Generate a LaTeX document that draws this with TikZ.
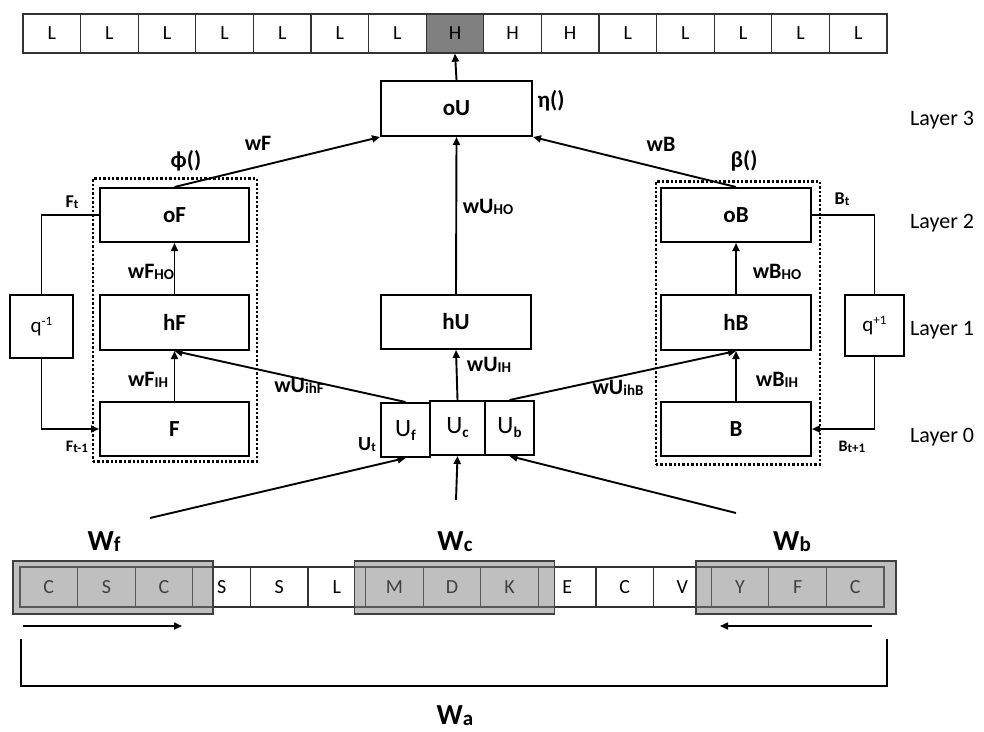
\documentclass[tikz,border=0pt]{standalone}
\usepackage{fontspec}
\setmainfont{Carlito}
\usetikzlibrary{arrows.meta,calc}
\newcommand\sbx[1]{\raisebox{-1.5pt}{\fontsize{15}{15}\selectfont #1}}
\newcommand\sbs[1]{\raisebox{-1pt}{\fontsize{13}{13}\selectfont #1}}
\newcommand\sbu[1]{\raisebox{-4pt}{\fontsize{15}{15}\selectfont\bfseries #1}}
\newcommand\spx[1]{\raisebox{7pt}{\fontsize{13}{13}\selectfont #1}}
\begin{document}
\begin{tikzpicture}[x=1pt,y=-1pt,
  cell/.style={draw=black!80,line width=1.3pt,minimum width=57.6pt,minimum height=39pt,inner sep=0pt,font=\fontsize{20}{20}\selectfont},
  hcell/.style={cell,fill=black!50},
  box/.style={draw,line width=2pt,minimum width=150pt,minimum height=54pt,inner sep=0pt,font=\bfseries\fontsize{23}{23}\selectfont},
  ubox/.style={draw,line width=2pt,minimum height=54pt,inner sep=0pt,font=\fontsize{25}{25}\selectfont},
  qbox/.style={draw,line width=1.2pt,inner sep=0pt,font=\fontsize{21}{21}\selectfont},
  dotbox/.style={draw,line width=2.8pt,dash pattern=on 2.4pt off 2pt,minimum width=164pt,minimum height=283pt,inner sep=0pt},
  arr/.style={line width=1.9pt,-{Triangle[length=8pt,width=7pt]}},
  ln/.style={line width=1.9pt},
  lab/.style={font=\bfseries\fontsize{22}{22}\selectfont,inner sep=0pt},
  slab/.style={font=\bfseries\fontsize{18}{18}\selectfont,inner sep=0pt},
  glab/.style={font=\bfseries\fontsize{23}{23}\selectfont,inner sep=0pt},
  layer/.style={font=\fontsize{22}{22}\selectfont,anchor=west,inner sep=0pt},
  win/.style={draw=black!75,line width=1.1pt,fill=black!50,fill opacity=0.5,minimum width=200pt,minimum height=53pt,inner sep=0pt},
  wlab/.style={font=\bfseries\fontsize{29}{29}\selectfont,inner sep=0pt}
]
\useasboundingbox (0,0) rectangle (984,731);
\fill[white] (0,0) rectangle (984,731);

% top output row
\foreach \t [count=\i] in {L,L,L,L,L,L,L,H,H,H,L,L,L,L,L} {
  \ifnum\i=8
    \node[hcell] (t\i) at ({23+57.6*(\i-0.5)},33.5) {\t};
  \else
    \node[cell] (t\i) at ({23+57.6*(\i-0.5)},33.5) {\t};
  \fi
}

% bottom sequence row
\foreach \t [count=\i] in {C,S,C,S,S,L,M,D,K,E,C,V,Y,F,C} {
  \node[cell,minimum height=40pt] (b\i) at ({20+57.6*(\i-0.5)},587) {\t};
}
\node[win] (wf) at (113,587.5) {};
\node[win] (wc) at (454.5,587.5) {};
\node[win] (wb) at (796,587.5) {};
\node[wlab] (wflab) at (104,542) {W\raisebox{-1pt}{\fontsize{21}{21}\selectfont f}};
\node[wlab] (wclab) at (455,542) {W\raisebox{-1pt}{\fontsize{21}{21}\selectfont c}};
\node[wlab] (wblab) at (792,542) {W\raisebox{-1pt}{\fontsize{21}{21}\selectfont b}};
\node[wlab] (walab) at (455,716) {W\raisebox{-1pt}{\fontsize{21}{21}\selectfont a}};

% direction arrows and bracket
\coordinate (fa1) at (23,626);
\coordinate (fa2) at (182,626);
\coordinate (ba1) at (872,626);
\coordinate (ba2) at (720,626);
\draw[arr,line width=1.6pt] (fa1) -- (fa2);
\draw[arr,line width=1.6pt] (ba1) -- (ba2);
\coordinate (br1) at (21,639);
\coordinate (br2) at (887,686);
\coordinate (br3) at (887,639);
\draw[ln] (br1) |- (br2) -- (br3);

% dotted groups
\node[dotbox] (dotL) at (175,320) {};
\node[dotbox] (dotR) at (738,323) {};

% boxes
\node[box,minimum width=151pt,minimum height=55pt] (oU) at (456.5,108.5) {oU};
\node[box,minimum width=149pt] (oF) at (174.5,215) {oF};
\node[box,minimum width=149pt,minimum height=55pt] (hF) at (174.5,322.5) {hF};
\node[box,minimum width=149pt] (F) at (174.5,429) {F};
\node[box] (oB) at (736,215) {oB};
\node[box,minimum height=55pt] (hB) at (736,322.5) {hB};
\node[box] (B) at (736,429) {B};
\node[box] (hU) at (456,322) {hU};
\node[ubox,minimum width=49pt] (Uf) at (405.5,430) {U\sbu{f}};
\node[ubox,minimum width=55pt] (Uc) at (457.5,428) {U\sbu{c}};
\node[ubox,minimum width=49pt] (Ub) at (509.5,428) {U\sbu{b}};
\node[qbox,minimum width=63pt,minimum height=63pt] (qL) at (41.5,326.5) {q\spx{-1}};
\node[qbox,minimum width=59pt,minimum height=61pt] (qR) at (874.5,325.5) {q\spx{+1}};

% connectors
\draw[arr] (oU.north) -- (t8.south);
\draw[arr] (oF.north) -- (oU.south west);
\draw[arr] (oB.north) -- (oU.south east);
\draw[arr] (hU.north) -- (oU.south);
\draw[arr] (Uc.north) -- (hU.south);
\draw[arr] (F.north) -- (hF.south);
\draw[arr] (hF.north) -- (oF.south);
\draw[arr] (B.north) -- (hB.south);
\draw[arr] (hB.north) -- (oB.south);
\draw[arr] (Uf.north) -- (hF.south);
\draw[arr] (Ub.north) -- (hB.south);
\draw[ln] (oF.west) -| (qL.north);
\draw[arr] (qL.south) |- (F.west);
\draw[ln] (oB.east) -| (qR.north);
\draw[arr] (qR.south) |- (B.east);

\coordinate (sf) at (150,518);
\coordinate (sc) at (456,500);
\coordinate (sb) at (736,513);
\draw[arr] (sf) -- (Uf.south);
\draw[arr] (sc) -- (Uc.south);
\draw[arr] (sb) -- (Ub.south);

% labels
\node[lab] (l1) at (258,143) {wF};
\node[glab] (l2) at (186,161) {ϕ()};
\node[glab] (l3) at (551,101) {η()};
\node[lab] (l4) at (661,144) {wB};
\node[glab] (l5) at (744,161) {β()};
\node[slab] (l6) at (72,202) {F\sbs{t}};
\node[slab,font=\bfseries\fontsize{16}{16}\selectfont] (l7) at (77,447) {F\sbs{t-1}};
\node[slab] (l8) at (842,199) {B\sbs{t}};
\node[slab,font=\bfseries\fontsize{16}{16}\selectfont] (l9) at (852,447) {B\sbs{t+1}};
\node[lab] (l10) at (488,207) {wU\sbx{HO}};
\node[lab] (l11) at (489,365) {wU\sbx{IH}};
\node[lab] (l12) at (299,386) {wU\sbx{ihF}};
\node[lab] (l13) at (618,388) {wU\sbx{ihB}};
\node[lab,font=\bfseries\fontsize{20}{20}\selectfont] (l14) at (367,445) {U\sbs{t}};
\node[lab] (l15) at (151,272) {wF\sbx{HO}};
\node[lab] (l16) at (148,380) {wF\sbx{IH}};
\node[lab] (l17) at (777,272) {wB\sbx{HO}};
\node[lab] (l18) at (777,380) {wB\sbx{IH}};

\node[layer] (L3) at (910,120) {Layer 3};
\node[layer] (L2) at (910,223) {Layer 2};
\node[layer] (L1) at (910,330) {Layer 1};
\node[layer] (L0) at (910,437) {Layer 0};
\end{tikzpicture}
\end{document}
